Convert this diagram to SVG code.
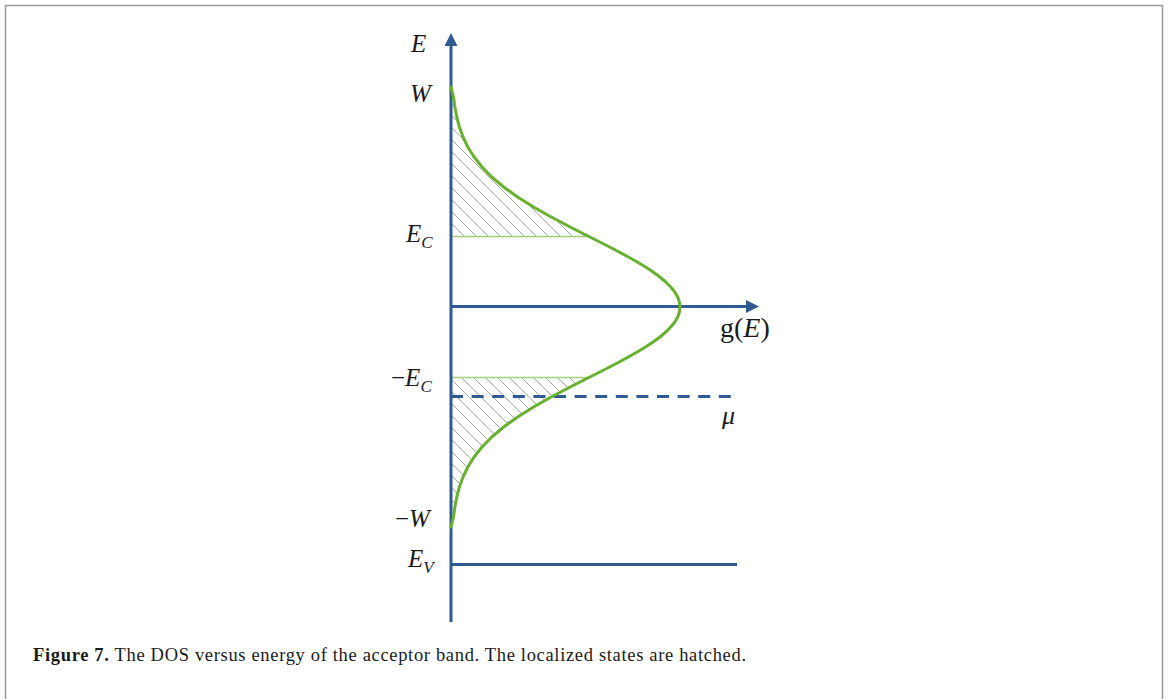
<svg xmlns="http://www.w3.org/2000/svg" width="1168" height="699" viewBox="0 0 1168 699">
<style>
.ax{stroke:#2f5a92;stroke-width:3;fill:none}
.lbl{font-family:"Liberation Serif","Times New Roman",serif;font-style:italic;font-size:25px;fill:#1a1a1a}
.up{font-style:normal}
.sub{font-size:17px}
.hatch{fill:url(#hp);stroke:none}
.ecl{stroke:#9fd07c;stroke-width:1.5}
.cap{font-family:"Liberation Serif","Times New Roman",serif;font-size:18.5px;fill:#1a1a1a}
</style>
<defs>
<marker id="arr" viewBox="0 0 13 13" refX="0" refY="6.5" markerWidth="13" markerHeight="13" markerUnits="userSpaceOnUse" orient="auto">
<path d="M0,0 L13,6.5 L0,13 Z" fill="#2f5a92"/>
</marker>
<pattern id="hp" patternUnits="userSpaceOnUse" width="12" height="12">
<path d="M0,0 L12,12 M-3,9 L3,15 M9,-3 L15,3" stroke="#ababab" stroke-width="1" fill="none"/>
</pattern>
</defs>
<rect width="1168" height="699" fill="#fff"/>
<path d="M5.5,710 L5.5,5.5 L1162.5,5.5 L1162.5,710" fill="none" stroke="#9a9a9a" stroke-width="1.5"/>
<g id="hatching">
<path class="hatch" d="M451,87 L453.5,97 L454.9,107 L456.8,117 L459.4,127 L463,137 L467.8,147 L474.1,157 L482,167 L491.8,177 L503.7,187 L517.6,197 L533.5,207 L551.2,217 L570.2,227 L580,232 L589,236.5 L451,236.5 Z"/>
<path class="hatch" d="M451,377.5 L589,377.5 L580,382 L570.2,387 L551.2,397 L533.5,407 L517.6,417 L503.7,427 L491.8,437 L482,447 L474.1,457 L467.8,467 L463,477 L459.4,487 L456.8,497 L454.9,507 L453.5,517 L451,527 Z"/>
<line class="ecl" x1="451" y1="236.5" x2="590" y2="236.5"/>
<line class="ecl" x1="451" y1="377.5" x2="590" y2="377.5"/>
</g>
<g id="axes">
<line class="ax" x1="451" y1="622" x2="451" y2="46" marker-end="url(#arr)"/>
<line class="ax" x1="451" y1="306.5" x2="746" y2="306.5" marker-end="url(#arr)"/>
<line class="ax" x1="451" y1="396.5" x2="737" y2="396.5" stroke-dasharray="12 8.6"/>
<line class="ax" x1="451" y1="564.5" x2="737" y2="564.5"/>
</g>
<g id="dos-curve">
<polyline fill="none" stroke="#68b12f" stroke-width="3" stroke-linejoin="round" stroke-linecap="round" points="451,87 453.5,97 454.9,107 456.8,117 459.4,127 463,137 467.8,147 474.1,157 482,167 491.8,177 503.7,187 517.6,197 533.5,207 551.2,217 570.2,227 580,232 589.9,237 599.8,242 609.6,247 619.2,252 628.4,257 637.2,262 645.5,267 653.1,272 659.9,277 665.8,282 670.8,287 674.8,292 677.7,297 679.4,302 680,307 679.4,312 677.7,317 674.8,322 670.8,327 665.8,332 659.9,337 653.1,342 645.5,347 637.2,352 628.4,357 619.2,362 609.6,367 599.8,372 589.9,377 580,382 570.2,387 551.2,397 533.5,407 517.6,417 503.7,427 491.8,437 482,447 474.1,457 467.8,467 463,477 459.4,487 456.8,497 454.9,507 453.5,517 451,527"/>
</g>
<g id="labels">
<text class="lbl" x="411" y="52">E</text>
<text class="lbl" x="410" y="102">W</text>
<text class="lbl" x="406" y="242">E<tspan class="sub" dy="6">C</tspan></text>
<text class="lbl" x="391" y="386"><tspan class="up">−</tspan>E<tspan class="sub" dy="6">C</tspan></text>
<text class="lbl" x="395" y="527"><tspan class="up">−</tspan>W</text>
<text class="lbl" x="408" y="567">E<tspan class="sub" dy="6">V</tspan></text>
<text class="lbl" x="720" y="337" style="font-size:28px"><tspan class="up">g(</tspan>E<tspan class="up">)</tspan></text>
<text class="lbl" x="722" y="424" style="font-size:26px">μ</text>
</g>
<g id="caption">
<text class="cap" x="33" y="661" textLength="713" lengthAdjust="spacing"><tspan font-weight="bold">Figure 7.</tspan> The DOS versus energy of the acceptor band. The localized states are hatched.</text>
</g>
</svg>
